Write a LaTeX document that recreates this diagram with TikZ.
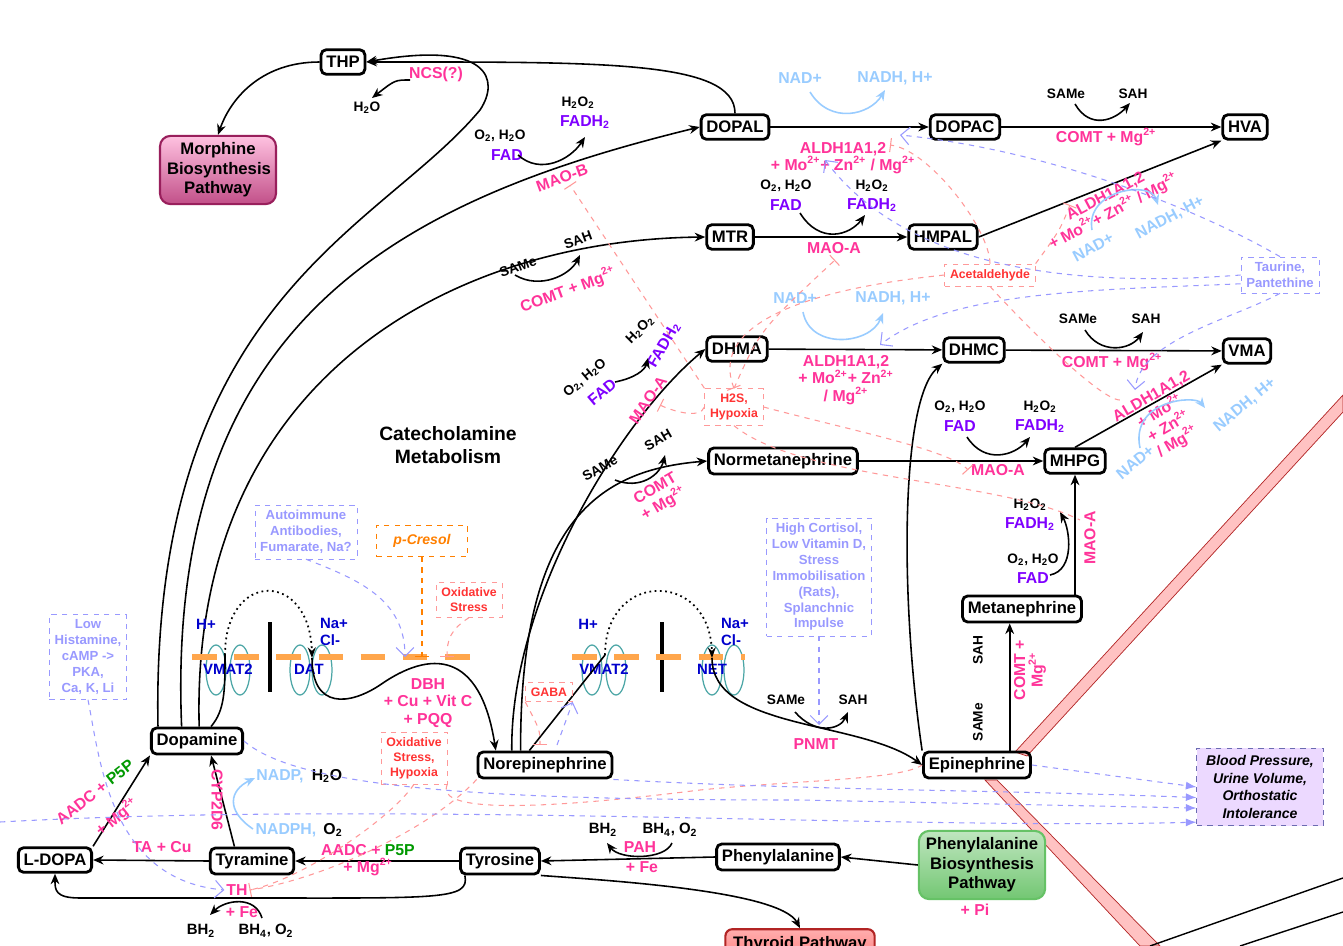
\documentclass[tikz,border=0pt]{standalone}
\usepackage{fontspec}
\setmainfont{Liberation Sans}
\usetikzlibrary{arrows.meta,shapes.geometric}
\definecolor{pk}{HTML}{FF3399}
\definecolor{pu}{HTML}{7F00FF}
\definecolor{lb}{HTML}{99CCFF}
\definecolor{gr}{HTML}{009900}
\definecolor{bl}{HTML}{0000CC}
\definecolor{lv}{HTML}{9999FF}
\definecolor{rd}{HTML}{FF3333}
\definecolor{lr}{HTML}{FF9999}
\definecolor{org}{HTML}{FF8000}
\newcommand{\ts}[1]{\textsubscript{#1}}
\tikzset{
 mol/.style={draw,line width=1.6pt,rounded corners=3pt,font=\bfseries\fontsize{9.5}{11}\selectfont,inner sep=3pt,minimum height=14pt},
 ar/.style={-{Stealth[length=6pt,width=5pt]},line width=0.9pt},
 lab/.style={font=\bfseries\fontsize{9}{10}\selectfont,text=pk,align=center,inner sep=1pt},
 sm/.style={font=\bfseries\fontsize{7.8}{9}\selectfont,inner sep=1pt,align=center},
 fad/.style={font=\bfseries\fontsize{9}{10}\selectfont,text=pu,inner sep=1pt,align=center},
 nad/.style={font=\bfseries\fontsize{9}{10}\selectfont,text=lb,inner sep=1pt},
 lvbox/.style={draw=lv,dashed,text=lv,font=\bfseries\fontsize{7.5}{9}\selectfont,align=center,inner sep=3pt},
 rdbox/.style={draw=lr,dashed,text=rd,font=\bfseries\fontsize{7}{8.5}\selectfont,align=center,inner sep=3pt},
 lvd/.style={draw=lv,dashed,line width=0.6pt},
 lrd/.style={draw=lr,dashed,line width=0.6pt},
 cof/.style={-{Stealth[length=6pt,width=5pt]},line width=0.9pt},
 cofb/.style={-{Stealth[length=6pt,width=5pt]},line width=0.9pt,draw=lb},
}
\begin{document}
\begin{tikzpicture}[x=0.02cm,y=-0.02cm]
\path[use as bounding box,fill=white] (0,0) rectangle (1343,946);
% red bands
\fill[fill=lr!60,draw=rd!70!black] (1015,752) -- (1343,395) -- (1343,412) -- (1027,756) -- cycle;
\fill[fill=lr!60,draw=rd!70!black] (985,780) -- (1140,946) -- (1160,946) -- (997,780) -- cycle;
\draw[line width=0.8pt] (1150,946) -- (1343,878);
\draw[line width=0.8pt] (1240,946) -- (1343,912);
% nodes
\node[mol] (thp) at (343,62) {THP};
\node[draw=pk!60!black,line width=1.2pt,rounded corners=6pt,top color=pk!30,bottom color=pk!70!black!80,font=\bfseries\fontsize{9.5}{11}\selectfont,align=center,text width=58pt,inner sep=4pt] (morph) at (218,170) {Morphine\\Biosynthesis\\Pathway};
\node[mol] (dopal) at (735,127) {DOPAL};
\node[mol] (dopac) at (965,127) {DOPAC};
\node[mol] (hva) at (1245,127) {HVA};
\node[mol] (mtr) at (730,237) {MTR};
\node[mol] (hmpal) at (943,237) {HMPAL};
\node[mol] (dhma) at (737,349) {DHMA};
\node[mol] (dhmc) at (974,350) {DHMC};
\node[mol] (vma) at (1247,351) {VMA};
\node[mol] (nmn) at (783,461) {Normetanephrine};
\node[mol] (mhpg) at (1075,461) {MHPG};
\node[mol] (mn) at (1022,609) {Metanephrine};
\node[mol] (da) at (197,741) {Dopamine};
\node[mol] (ne) at (545,765) {Norepinephrine};
\node[mol] (epi) at (977,765) {Epinephrine};
\node[mol] (ldopa) at (55,860) {L-DOPA};
\node[mol] (tyra) at (252,861) {Tyramine};
\node[mol] (tyro) at (500,861) {Tyrosine};
\node[mol] (phe) at (778,857) {Phenylalanine};
\node[draw=gr!60,line width=1.2pt,rounded corners=6pt,top color=gr!25,bottom color=gr!55,font=\bfseries\fontsize{9.5}{11}\selectfont,align=center,inner sep=4pt] (pheb) at (982,865) {Phenylalanine\\Biosynthesis\\Pathway};
\node[draw=rd!70!black,line width=1.2pt,rounded corners=4pt,top color=rd!40,bottom color=rd!60,font=\bfseries\fontsize{9.5}{11}\selectfont,inner sep=4pt,minimum width=85pt] (thy) at (800,944) {Thyroid Pathway};
\node[draw=lv!70!black,dashed,fill=pu!15,font=\bfseries\itshape\fontsize{8}{10}\selectfont,align=center,inner sep=4pt,minimum width=72pt,minimum height=44pt] (bp) at (1260,787) {Blood Pressure,\\Urine Volume,\\Orthostatic\\Intolerance};
\node[font=\bfseries\fontsize{11}{13}\selectfont,align=center] (title) at (448,445) {Catecholamine\\Metabolism};
% main arrows
\draw[ar] (dopal.north) .. controls (735,60) and (600,62) .. (thp.east);
\draw[ar] (thp.west) .. controls (260,62) and (230,100) .. (morph.north);
\draw[ar] (da.north west) ++(8,0) coordinate (d1) .. controls (150,300) and (380,230) .. (480,110) .. controls (500,80) and (490,40) .. (thp.east);
\coordinate (h2oend) at (372,98);
\draw[ar] (410,80) .. controls (395,80) .. (h2oend);
\draw[ar] ([xshift=18pt]da.north west) .. controls (165,320) and (400,200) .. (dopal.west);
\draw[ar] ([xshift=28pt]da.north west) .. controls (190,380) and (450,240) .. (mtr.west);
\draw[ar] (dopal) -- (dopac);
\draw[ar] (dopac) -- (hva);
\draw[ar] (mtr) -- (hmpal);
\draw[ar] (hmpal.east) -- (hva.south west);
\draw[ar] (dhma) -- (dhmc);
\draw[ar] (dhmc) -- (vma);
\draw[ar] (nmn) -- (mhpg);
\draw[ar] (mhpg.north) -- (vma.south west);
\draw[ar] (mhpg.south |- mn.north) -- (mhpg.south);
\draw[ar] ([xshift=-7pt]mn.south |- epi.north) -- ([xshift=-7pt]mn.south);
\draw[ar] (epi.north west) .. controls (900,600) and (900,400) .. (dhmc.south west);
\draw[ar] ([xshift=20pt]ne.north west) .. controls (510,600) and (620,420) .. (dhma.west);
\draw[ar] ([xshift=25pt]ne.north west) .. controls (520,520) and (600,470) .. (nmn.west);
\draw[ar] (ldopa.north east) -- (da.south west);
\draw[ar] (tyra.west) -- (ldopa.east);
\draw[ar] ([xshift=-10pt]tyra.north) -- ([xshift=8pt]da.south);
\draw[ar] (tyro.west) -- (tyra.east);
\draw[ar] (phe.west) -- (tyro.east);
\draw[ar] (pheb.west) -- (phe.east);
\draw[ar] ([xshift=-20pt]tyro.south) .. controls (470,900) and (440,898) .. (250,898) -- (80,898) .. controls (55,898) and (55,890) .. (ldopa.south);
\draw[ar] (tyro.south east) .. controls (600,880) and (780,890) .. (thy.north);
% vesicle / transporters
\foreach \cx in {228,604}{
 \draw[color=teal!70,line width=0.7pt] (\cx-12,670) ellipse (10 and 25);
 \draw[color=teal!70,line width=0.7pt] (\cx+12,670) ellipse (10 and 25);}
\foreach \cx in {310,722}{
 \draw[color=teal!70,line width=0.7pt] (\cx-10,670) ellipse (10 and 25);
 \draw[color=teal!70,line width=0.7pt] (\cx+12,670) ellipse (10 and 25);}
\draw[line width=1.8pt] (270,622) -- (270,692);
\draw[line width=1.8pt] (662,622) -- (662,692);
\draw[draw=orange!70,line width=3pt,dash pattern=on 14pt off 10pt] (192,657) -- (480,657);
\draw[draw=orange!70,line width=3pt,dash pattern=on 14pt off 10pt] (572,657) -- (745,657);
\node[font=\bfseries\fontsize{8.5}{10}\selectfont,text=bl] (hp1) at (206,624) {H+};
\node[font=\bfseries\fontsize{8.5}{10}\selectfont,text=bl] (vm1) at (228,669) {VMAT2};
\node[font=\bfseries\fontsize{8.5}{10}\selectfont,text=bl,align=left] (na1) at (334,632) {Na+\\ Cl-};
\node[font=\bfseries\fontsize{8.5}{10}\selectfont,text=bl] (dat) at (309,669) {DAT};
\node[font=\bfseries\fontsize{8.5}{10}\selectfont,text=bl] (hp2) at (588,624) {H+};
\node[font=\bfseries\fontsize{8.5}{10}\selectfont,text=bl] (vm2) at (604,669) {VMAT2};
\node[font=\bfseries\fontsize{8.5}{10}\selectfont,text=bl,align=left] (na2) at (735,632) {Na+\\ Cl-};
\node[font=\bfseries\fontsize{8.5}{10}\selectfont,text=bl] (net) at (712,669) {NET};
\draw[line width=0.9pt] ([xshift=8pt]da.north) .. controls (225,710) and (225,690) .. (225,655);
\draw[dotted,line width=1pt,-{Stealth[length=6pt]}] (225,655) .. controls (225,570) and (310,570) .. (312,658);
\draw[ar] (312,658) .. controls (312,710) and (350,705) .. (380,685) .. controls (430,650) and (480,650) .. ([xshift=-28pt]ne.north);
\draw[line width=0.9pt] ([xshift=30pt]ne.north west) -- (605,655);
\draw[dotted,line width=1pt,-{Stealth[length=6pt]}] (605,655) .. controls (605,570) and (710,570) .. (712,658);
\draw[ar] (712,658) .. controls (712,730) and (860,720) .. (epi.west);
% labels
\node[lab] (ncs) at (436,74) {NCS(?)};
\node[sm] (h2o1) at (367,108) {H\ts{2}O};
\node[lab,rotate=20] (maob) at (562,178) {MAO-B};
\node[sm] (o2a) at (500,136) {O\ts{2}, H\ts{2}O};
\node[fad] (fada) at (507,155) {FAD};
\node[sm] (h2o2a) at (578,103) {H\ts{2}O\ts{2}};
\node[fad] (fadha) at (585,122) {FADH\ts{2}};
\draw[cof] (518,155) .. controls (540,175) and (570,160) .. (585,137);
\node[lab,align=center] (ald1) at (843,158) {ALDH1A1,2\\+ Mo\textsuperscript{2+}+ Zn\textsuperscript{2+} / Mg\textsuperscript{2+}};
\node[nad] (nad1) at (800,78) {NAD+};
\node[nad] (nadh1) at (895,78) {NADH, H+};
\draw[cofb] (810,92) .. controls (830,125) and (870,115) .. (885,90);
\node[sm] (same1) at (1066,94) {SAMe};
\node[sm] (sah1) at (1133,94) {SAH};
\draw[cof] (1075,104) .. controls (1090,130) and (1115,120) .. (1130,103);
\node[lab] (comt1) at (1106,137) {COMT + Mg\textsuperscript{2+}};
\node[sm] (o2b) at (786,186) {O\ts{2}, H\ts{2}O};
\node[fad] (fadb) at (786,205) {FAD};
\node[sm] (h2o2b) at (872,186) {H\ts{2}O\ts{2}};
\node[fad] (fadhb) at (872,205) {FADH\ts{2}};
\draw[cof] (800,213) .. controls (820,245) and (850,235) .. (865,215);
\node[lab] (maoa1) at (834,248) {MAO-A};
\node[lab,rotate=28,align=center] (ald2) at (1110,205) {ALDH1A1,2\\+ Mo\textsuperscript{2+}+ Zn\textsuperscript{2+} / Mg\textsuperscript{2+}};
\node[nad,rotate=28] (nad2) at (1093,247) {NAD+};
\node[nad,rotate=28] (nadh2) at (1170,218) {NADH, H+};
\draw[cofb] (1092,230) .. controls (1085,190) and (1150,180) .. (1158,205);
\node[lvbox] (taur) at (1280,275) {Taurine,\\Pantethine};
\node[rdbox] (acet) at (990,275) {Acetaldehyde};
\node[sm,rotate=20] (same2) at (518,267) {SAMe};
\node[sm,rotate=20] (sah2) at (578,240) {SAH};
\draw[cof] (515,275) .. controls (540,290) and (570,275) .. (580,255);
\node[lab,rotate=20] (comt2) at (568,290) {COMT + Mg\textsuperscript{2+}};
\node[nad] (nad3) at (795,298) {NAD+};
\node[nad] (nadh3) at (893,298) {NADH, H+};
\draw[cofb] (803,312) .. controls (810,350) and (870,345) .. (883,313);
\node[lab] (ald3) at (846,380) {ALDH1A1,2\\+ Mo\textsuperscript{2+}+ Zn\textsuperscript{2+}\\/ Mg\textsuperscript{2+}};
\node[sm] (same3) at (1078,319) {SAMe};
\node[sm] (sah3) at (1146,319) {SAH};
\draw[cof] (1085,330) .. controls (1100,355) and (1130,350) .. (1143,332);
\node[lab] (comt3) at (1112,362) {COMT + Mg\textsuperscript{2+}};
\node[lab,rotate=30,align=center] (ald4) at (1165,420) {ALDH1A1,2\\+ Mo\textsuperscript{2+}\\+ Zn\textsuperscript{2+}\\/ Mg\textsuperscript{2+}};
\node[nad,rotate=40] (nad4) at (1135,462) {NAD+};
\node[nad,rotate=40] (nadh4) at (1245,405) {NADH, H+};
\draw[cofb] (1140,448) .. controls (1130,400) and (1195,395) .. (1205,408);
\node[sm,rotate=40] (o2c) at (585,378) {O\ts{2}, H\ts{2}O};
\node[fad,rotate=40] (fadc) at (602,392) {FAD};
\node[sm,rotate=45] (h2o2c) at (640,330) {H\ts{2}O\ts{2}};
\node[fad,rotate=60] (fadhc) at (664,345) {FADH\ts{2}};
\draw[cof] (615,382) .. controls (635,378) and (645,370) .. (648,358);
\node[lab,rotate=55] (maoa2) at (648,400) {MAO-A};
\node[rdbox] (h2s) at (734,407) {H2S,\\Hypoxia};
\node[sm,rotate=30] (same4) at (600,468) {SAMe};
\node[sm,rotate=30] (sah4) at (658,440) {SAH};
\draw[cof] (615,480) .. controls (640,490) and (660,475) .. (665,455);
\node[lab,rotate=30] (comt4) at (660,497) {COMT\\+ Mg\textsuperscript{2+}};
\node[sm] (o2d) at (960,407) {O\ts{2}, H\ts{2}O};
\node[fad] (fadd) at (960,426) {FAD};
\node[sm] (h2o2d) at (1040,407) {H\ts{2}O\ts{2}};
\node[fad] (fadhd) at (1040,426) {FADH\ts{2}};
\draw[cof] (967,437) .. controls (985,465) and (1015,455) .. (1030,437);
\node[lab] (maoa3) at (998,470) {MAO-A};
\node[sm] (h2o2e) at (1030,505) {H\ts{2}O\ts{2}};
\node[fad] (fadhe) at (1030,524) {FADH\ts{2}};
\node[sm] (o2e) at (1033,560) {O\ts{2}, H\ts{2}O};
\node[fad] (fade) at (1033,578) {FAD};
\draw[cof] (1050,575) .. controls (1075,570) and (1070,530) .. (1060,512);
\node[lab,rotate=90] (maoa4) at (1090,538) {MAO-A};
\node[sm,rotate=90] (sah5) at (978,650) {SAH};
\node[sm,rotate=90] (same5) at (978,722) {SAMe};
\node[lab,rotate=90] (comt5) at (1030,670) {COMT +\\Mg\textsuperscript{2+}};
\node[lvbox] (cort) at (819,577) {High Cortisol,\\Low Vitamin D,\\Stress\\Immobilisation\\(Rats),\\Splanchnic\\Impulse};
\node[sm] (same6) at (786,700) {SAMe};
\node[sm] (sah6) at (853,700) {SAH};
\draw[cof] (795,712) .. controls (815,735) and (840,730) .. (848,712);
\node[lab] (pnmt) at (816,744) {PNMT};
\node[lvbox] (auto) at (306,532) {Autoimmune\\Antibodies,\\Fumarate, Na?};
\node[draw=org,dashed,text=org,font=\bfseries\itshape\fontsize{8}{10}\selectfont,inner sep=5pt,text width=42pt,align=center] (pcr) at (422,541) {p-Cresol};
\node[rdbox] (ox1) at (469,600) {Oxidative\\Stress};
\node[lab] (dbh) at (428,703) {DBH\\+ Cu + Vit C\\+ PQQ};
\node[lvbox] (hist) at (88,657) {Low\\Histamine,\\cAMP ->\\PKA,\\Ca, K, Li};
\node[rdbox] (gaba) at (549,692) {GABA};
\node[rdbox] (ox2) at (414,758) {Oxidative\\Stress,\\Hypoxia};
\node[lab,rotate=38] (aadc1) at (95,792) {AADC + \textcolor{gr}{P5P}};
\node[lab,rotate=38] (mg1) at (117,817) {+ Mg\textsuperscript{2+}};
\node[lab,rotate=-90] (cyp) at (217,800) {CYP2D6};
\node[nad] (nadp) at (280,776) {NADP,};
\node[sm,font=\bfseries\fontsize{9}{10}\selectfont] (h2o3) at (327,776) {H\ts{2}O};
\node[nad] (nadph) at (286,830) {NADPH,};
\node[sm,font=\bfseries\fontsize{9}{10}\selectfont] (o23) at (333,830) {O\ts{2}};
\draw[cofb] (253,829) .. controls (225,810) and (230,790) .. (255,778);
\node[lab] (tacu) at (162,847) {TA + Cu};
\node[lab] (aadc2) at (368,860) {AADC + \textcolor{gr}{P5P}\\+ Mg\textsuperscript{2+}};
\node[lab] (th) at (237,890) {TH};
\node[lab] (fe1) at (242,912) {+ Fe};
\node[sm,font=\bfseries\fontsize{8.5}{10}\selectfont] (bh2a) at (201,931) {BH\ts{2}};
\node[sm,font=\bfseries\fontsize{8.5}{10}\selectfont] (bh4a) at (266,931) {BH\ts{4}, O\ts{2}};
\draw[cof] (262,918) .. controls (255,895) and (225,900) .. (210,915);
\node[lab] (pah) at (640,847) {PAH};
\node[lab] (fe2) at (642,867) {+ Fe};
\node[sm,font=\bfseries\fontsize{8.5}{10}\selectfont] (bh2b) at (603,830) {BH\ts{2}};
\node[sm,font=\bfseries\fontsize{8.5}{10}\selectfont] (bh4b) at (670,830) {BH\ts{4}, O\ts{2}};
\draw[cof] (672,843) .. controls (665,860) and (620,860) .. (607,843);
\node[lab] (pi) at (975,910) {+ Pi};
% dashed influence lines
\draw[lvd,-{Straight Barb[length=5pt]}] (auto.south) .. controls (360,580) and (405,600) .. (405,657);
\draw[draw=org,dashed,line width=0.8pt,-{Bar[width=8pt]}] (pcr.south) -- (422,657);
\draw[lrd,-{Bar[width=8pt]}] (ox1.south) .. controls (450,630) and (447,640) .. (447,657);
\draw[lvd,-{Straight Barb[length=5pt]}] (hist.south) .. controls (100,760) and (110,880) .. (th.west);
\draw[lrd,-{Bar[width=8pt]}] (ox2.south) .. controls (390,820) and (300,880) .. (th.east);
\draw[lrd] (ne.south west) .. controls (430,830) and (320,880) .. (th.east);
\draw[lrd] (ox2.south east) .. controls (440,800) and (460,820) .. (700,790) .. controls (800,780) and (900,780) .. (epi.west);
\draw[lvd,-{Straight Barb[length=5pt]}] (cort.south) -- (819,725);
\draw[lrd,-{Bar[width=8pt]}] (gaba.south west) .. controls (540,730) .. (540,745);
\draw[lvd,-{Straight Barb[length=5pt]}] (557,745) -- (gaba.south east);
\draw[lvd,-{Latex[length=6pt]}] (epi.east) -- (bp.west);
\draw[lvd,-{Latex[length=6pt]}] (ne.south east) .. controls (800,790) and (1000,790) .. ([yshift=-6pt]bp.west);
\draw[lvd,-{Latex[length=6pt]}] (da.east) .. controls (300,790) and (500,800) .. (800,800) -- ([yshift=-12pt]bp.west);
\draw[lvd,-{Latex[length=6pt]}] (0,822) .. controls (400,800) and (900,830) .. ([yshift=-20pt]bp.west);
\draw[lvd,-{Straight Barb[length=5pt]}] (taur.north) .. controls (1200,210) and (1050,150) .. (900,135);
\draw[lvd,-{Straight Barb[length=5pt]}] (taur.west) .. controls (1050,290) and (900,260) .. (825,160);
\draw[lvd,-{Straight Barb[length=5pt]}] ([yshift=-5pt]taur.west) .. controls (1100,290) and (950,290) .. (880,345);
\draw[lvd,-{Straight Barb[length=5pt]}] (taur.south) .. controls (1230,320) and (1140,340) .. (1135,390);
\draw[lrd,-{Bar[width=8pt]}] (acet.north) .. controls (990,230) and (930,150) .. (890,145);
\draw[lrd,-{Bar[width=8pt]}] (acet.north east) .. controls (1060,230) .. (1070,205);
\draw[lrd,-{Bar[width=8pt]}] (acet.west) .. controls (900,280) and (700,300) .. (h2s.north);
\draw[lrd] (acet.south) .. controls (1020,320) and (1100,400) .. (1120,400);
\draw[lrd,-{Bar[width=8pt]}] (h2s.north) .. controls (760,330) .. (835,260);
\draw[lrd,-{Bar[width=8pt]}] (h2s.north west) -- (570,185);
\draw[lrd,-{Bar[width=8pt]}] (h2s.west) .. controls (700,420) and (670,410) .. (660,405);
\draw[lrd,-{Bar[width=8pt]}] (h2s.east) .. controls (850,430) and (950,450) .. (968,470);
\draw[lrd] (h2s.south) .. controls (800,480) and (1000,480) .. (1080,520);
\end{tikzpicture}
\end{document}
